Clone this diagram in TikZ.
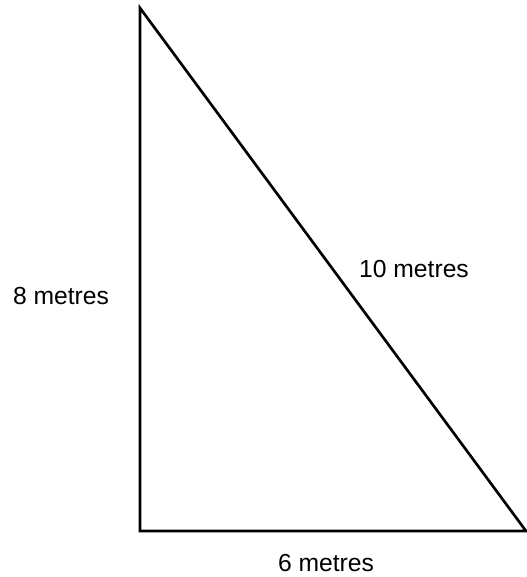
\documentclass[tikz,border=0pt]{standalone}
\usepackage{fontspec}
\setmainfont{Liberation Sans}
\usepackage{tikz}

\begin{document}
\begin{tikzpicture}[
  x=0.75pt,y=-0.75pt,
  font=\fontsize{18.5}{22}\selectfont,
  side/.style={line width=2pt,line join=miter},
  len/.style={inner sep=0pt,anchor=center}
]
\useasboundingbox (0,0) rectangle (527,577);
\coordinate (apex) at (140,8);
\coordinate (corner) at (140,531);
\coordinate (foot) at (526,531);

\draw[side] (apex) -- (corner) -- (foot) -- cycle;

\node[len] (height) at (61,296) {8 metres};
\node[len] (hyp) at (414,269) {10 metres};
\node[len] (base) at (326,563) {6 metres};
\end{tikzpicture}
\end{document}
